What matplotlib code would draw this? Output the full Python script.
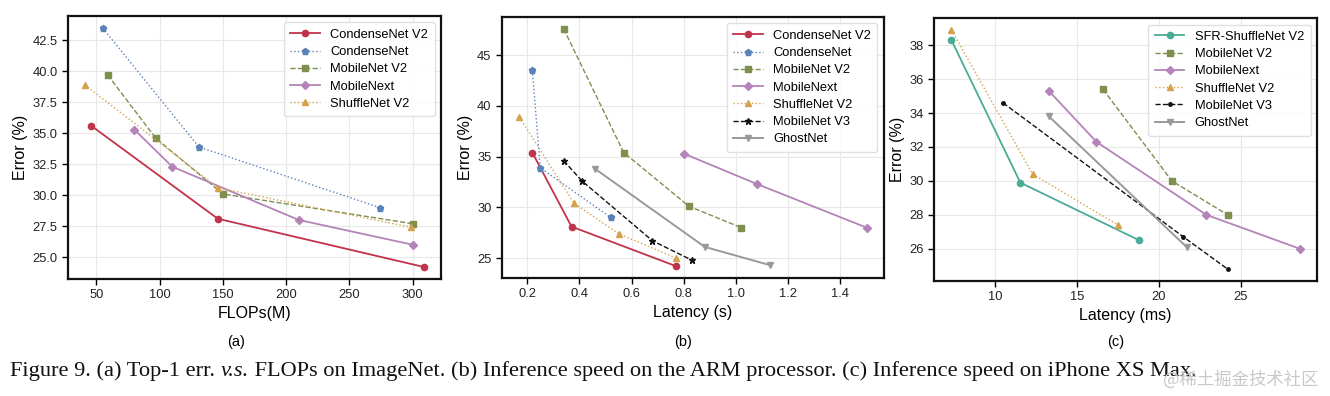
import numpy as np
import matplotlib
matplotlib.use("Agg")
import matplotlib.pyplot as plt
from matplotlib.ticker import MultipleLocator

plt.rcParams['font.family'] = ['Liberation Sans', 'DejaVu Sans']

#%% data

# (a) FLOPs(M) vs error
a_cnv2_x = [46, 146, 309]
a_cnv2_y = [35.6, 28.1, 24.2]
a_cn_x = [55, 131, 274]
a_cn_y = [43.5, 33.9, 29.0]
a_mv2_x = [59, 97, 150, 300]
a_mv2_y = [39.7, 34.6, 30.1, 27.7]
a_mnext_x = [80, 110, 210, 300]
a_mnext_y = [35.3, 32.3, 28.0, 26.0]
a_shv2_x = [41, 146, 299]
a_shv2_y = [38.9, 30.6, 27.4]

# (b) ARM latency (s) vs error
b_cnv2_x = [0.22, 0.37, 0.77]
b_cnv2_y = [35.4, 28.1, 24.2]
b_cn_x = [0.22, 0.25, 0.52]
b_cn_y = [43.5, 33.9, 29.0]
b_mv2_x = [0.34, 0.57, 0.82, 1.02]
b_mv2_y = [47.6, 35.4, 30.1, 28.0]
b_mnext_x = [0.80, 1.08, 1.50]
b_mnext_y = [35.3, 32.3, 28.0]
b_shv2_x = [0.17, 0.38, 0.55, 0.77]
b_shv2_y = [38.9, 30.4, 27.4, 25.0]
b_mv3_x = [0.34, 0.41, 0.68, 0.83]
b_mv3_y = [34.6, 32.6, 26.7, 24.8]
b_ghost_x = [0.46, 0.88, 1.13]
b_ghost_y = [33.8, 26.1, 24.3]

# (c) iPhone latency (ms) vs error
c_sfr_x = [7.35, 11.55, 18.8]
c_sfr_y = [38.3, 29.9, 26.5]
c_mv2_x = [16.6, 20.8, 24.2]
c_mv2_y = [35.4, 30.0, 28.0]
c_mnext_x = [13.3, 16.2, 22.9, 28.6]
c_mnext_y = [35.3, 32.3, 28.0, 26.0]
c_shv2_x = [7.35, 12.3, 17.5]
c_shv2_y = [38.9, 30.4, 27.4]
c_mv3_x = [10.5, 21.5, 24.2]
c_mv3_y = [34.6, 26.7, 24.8]
c_ghost_x = [13.3, 21.7]
c_ghost_y = [33.8, 26.1]

#%% styles

sty = {
    'CondenseNet V2': dict(color='#c1334b', ls='-', marker='o', lw=1.3, ms=4.5),
    'CondenseNet': dict(color='#5b82b8', ls=':', marker='p', lw=1.0, ms=4.5),
    'MobileNet V2': dict(color='#7f8f4e', ls='--', marker='s', lw=1.0, ms=4.2),
    'MobileNext': dict(color='#b484b8', ls='-', marker='D', lw=1.3, ms=4.5),
    'ShuffleNet V2': dict(color='#d4a24c', ls=':', marker='^', lw=1.0, ms=5),
    'MobileNet V3': dict(color='#111111', ls='--', marker='*', lw=1.0, ms=5),
    'GhostNet': dict(color='#999999', ls='-', marker='v', lw=1.4, ms=5),
    'SFR-ShuffleNet V2': dict(color='#4aab96', ls='-', marker='o', lw=1.3, ms=4.5),
}

def style_ax(ax, xlabel):
    ax.grid(True, color='#e8e8e8', lw=0.8)
    ax.set_axisbelow(True)
    for s in ax.spines.values():
        s.set_linewidth(1.6)
        s.set_color('#111111')
    ax.tick_params(direction='out', length=4, width=1, labelsize=9.3, labelcolor='#222222')
    ax.set_xlabel(xlabel, fontsize=11.5, labelpad=3)
    ax.set_ylabel('Error (%)', fontsize=11.5, labelpad=3)
    ax.legend(loc='upper right', fontsize=9.3, labelspacing=0.4, handlelength=2.3,
              edgecolor='#dddddd', framealpha=0.9, borderpad=0.5)

#%%

fig = plt.figure(figsize=(13.3, 3.96), dpi=100)
axa = fig.add_axes([0.0511, 0.2955, 0.2805, 0.6641])
axb = fig.add_axes([0.3774, 0.298, 0.2872, 0.659])
axc = fig.add_axes([0.7023, 0.2904, 0.288, 0.664])

axa.plot(a_cnv2_x, a_cnv2_y, label='CondenseNet V2', **sty['CondenseNet V2'])
axa.plot(a_cn_x, a_cn_y, label='CondenseNet', **sty['CondenseNet'])
axa.plot(a_mv2_x, a_mv2_y, label='MobileNet V2', **sty['MobileNet V2'])
axa.plot(a_mnext_x, a_mnext_y, label='MobileNext', **sty['MobileNext'])
axa.plot(a_shv2_x, a_shv2_y, label='ShuffleNet V2', **sty['ShuffleNet V2'])
axa.xaxis.set_major_locator(MultipleLocator(50))
axa.yaxis.set_major_locator(MultipleLocator(2.5))
axa.yaxis.set_major_formatter('{x:.1f}')
style_ax(axa, 'FLOPs(M)')

axb.plot(b_cnv2_x, b_cnv2_y, label='CondenseNet V2', **sty['CondenseNet V2'])
axb.plot(b_cn_x, b_cn_y, label='CondenseNet', **sty['CondenseNet'])
axb.plot(b_mv2_x, b_mv2_y, label='MobileNet V2', **sty['MobileNet V2'])
axb.plot(b_mnext_x, b_mnext_y, label='MobileNext', **sty['MobileNext'])
axb.plot(b_shv2_x, b_shv2_y, label='ShuffleNet V2', **sty['ShuffleNet V2'])
axb.plot(b_mv3_x, b_mv3_y, label='MobileNet V3', **sty['MobileNet V3'])
axb.plot(b_ghost_x, b_ghost_y, label='GhostNet', **sty['GhostNet'])
axb.xaxis.set_major_locator(MultipleLocator(0.2))
axb.yaxis.set_major_locator(MultipleLocator(5))
style_ax(axb, 'Latency (s)')

axc.plot(c_sfr_x, c_sfr_y, label='SFR-ShuffleNet V2', **sty['SFR-ShuffleNet V2'])
axc.plot(c_mv2_x, c_mv2_y, label='MobileNet V2', **sty['MobileNet V2'])
axc.plot(c_mnext_x, c_mnext_y, label='MobileNext', **sty['MobileNext'])
axc.plot(c_shv2_x, c_shv2_y, label='ShuffleNet V2', **sty['ShuffleNet V2'])
mv3c = dict(sty['MobileNet V3'])
mv3c['marker'] = '.'
axc.plot(c_mv3_x, c_mv3_y, label='MobileNet V3', **mv3c)
axc.plot(c_ghost_x, c_ghost_y, label='GhostNet', **sty['GhostNet'])
axc.xaxis.set_major_locator(MultipleLocator(5))
axc.yaxis.set_major_locator(MultipleLocator(2))
style_ax(axc, 'Latency (ms)')

# sub-figure tags
for xp, tag in [(236, '(a)'), (683, '(b)'), (1116, '(c)')]:
    fig.text(xp / 1330, 1 - 342 / 396, tag, ha='center', va='center', fontsize=10.5)

# caption, pieced together so "v.s." can be italic
fig.canvas.draw()
r = fig.canvas.get_renderer()
pieces = [('Figure 9. (a) Top-1 err. ', 'normal'),
          ('v.s.', 'italic'),
          (' FLOPs on ImageNet. (b) Inference speed on the ARM processor. (c) Inference speed on iPhone XS Max.', 'normal')]
xpos = 10
for txt, st in pieces:
    t = fig.text(xpos / 1330, 1 - 376 / 396, txt, fontstyle=st, family='Liberation Serif',
                 fontsize=16.1, va='baseline', color='#111111')
    bb = t.get_window_extent(renderer=r)
    xpos = bb.x1

# site watermark (it sits over the end of the caption in the original too)
fig.text(1318 / 1330, 1 - 380 / 396, '@稀土掘金技术社区', ha='right', va='center',
         family=['Noto Sans CJK SC', 'DejaVu Sans'], fontsize=12.5, color='#c8c8c8')

plt.savefig('out.png', dpi=100)
